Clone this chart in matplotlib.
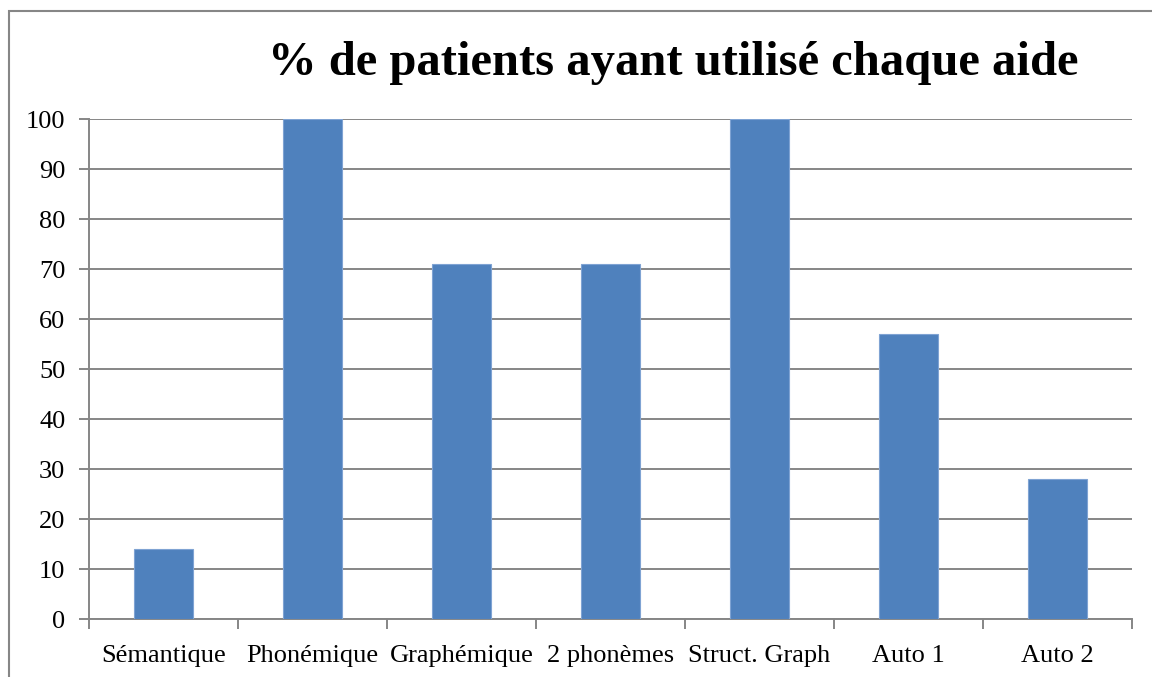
import matplotlib.pyplot as plt
from matplotlib.patches import Rectangle

categories = ['Sémantique', 'Phonémique', 'Graphémique', '2 phonèmes',
              'Struct. Graph', 'Auto 1', 'Auto 2']
values = [14, 100, 71, 71, 100, 57, 28]
yticks = list(range(0, 101, 10))

plt.rcParams['font.family'] = ['Liberation Serif', 'DejaVu Serif']

W, H = 1152, 677
fig = plt.figure(figsize=(W / 100, H / 100), dpi=100)
ax = fig.add_axes([89 / W, 1 - 619 / H, (1132 - 89) / W, (619 - 119) / H])

grey = '#868686'
x = list(range(len(categories)))
ax.bar(x, values, width=0.4, color='#4F81BD', edgecolor='#7FA3D3',
       linewidth=0.8, zorder=3)

ax.set_xlim(-0.5, len(categories) - 0.5)
ax.set_ylim(0, 100)
ax.set_yticks(yticks)
ax.yaxis.grid(True, color=grey, linewidth=1.4, zorder=0)
ax.tick_params(axis='y', length=7, width=1.4, color=grey, labelsize=19, pad=10)

ax.set_xticks([i - 0.5 for i in range(len(categories) + 1)])
ax.set_xticklabels([])
ax.set_xticks(x, minor=True)
ax.set_xticklabels(categories, minor=True)
ax.tick_params(axis='x', which='major', length=7, width=1.4, color=grey)
ax.tick_params(axis='x', which='minor', length=0, labelsize=19, pad=19)

for side in ['top', 'right']:
    ax.spines[side].set_visible(False)
for side in ['left', 'bottom']:
    ax.spines[side].set_color(grey)
    ax.spines[side].set_linewidth(1.4)

fig.text(673 / W, 1 - 75 / H, '% de patients ayant utilisé chaque aide',
         ha='center', va='baseline', fontsize=35, fontweight='bold')

# outer frame of the chart area (right and bottom edges fall outside)
fig.add_artist(Rectangle((9 / W, -0.01), 1.0, 1 - 11 / H + 0.01,
                         transform=fig.transFigure, fill=False,
                         edgecolor=grey, linewidth=1.5))

fig.savefig('out.png', dpi=100)
